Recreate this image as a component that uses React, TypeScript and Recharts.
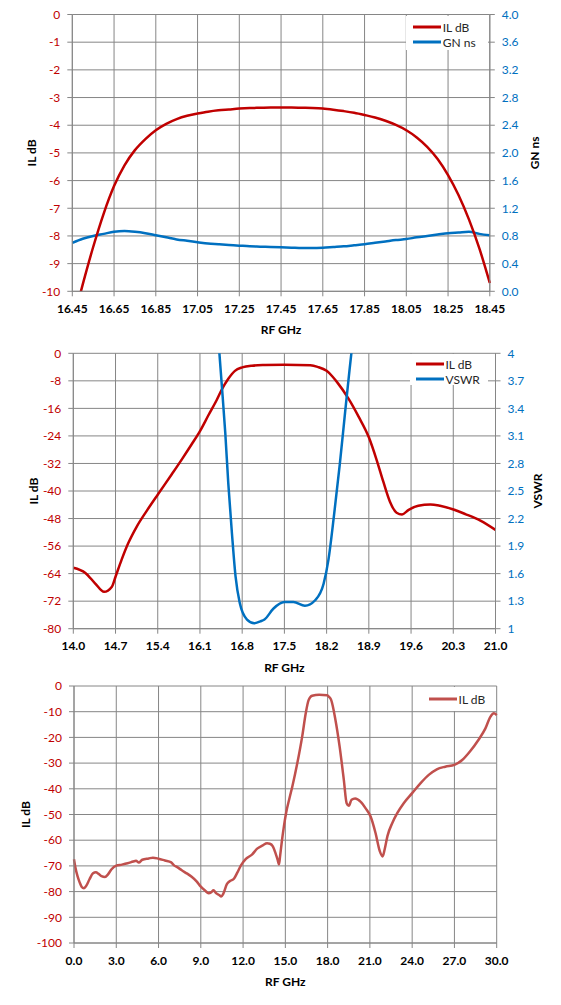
import React from 'react';
import { LineChart, Line, XAxis, YAxis, CartesianGrid, Legend } from 'recharts';

const FONT = 'Lato, "Open Sans", sans-serif';
const GRID = '#868686';
const RED = '#C00000';
const BLUE = '#0070C0';
const RED3 = '#C0504D';

// ---- chart 1: passband IL and group delay ----
const freq1 = [
  16.45, 16.5, 16.55, 16.6, 16.65, 16.7, 16.75, 16.8, 16.85, 16.9, 16.95, 17.0, 17.05, 17.1,
  17.15, 17.2, 17.25, 17.3, 17.35, 17.4, 17.45, 17.5, 17.55, 17.6, 17.65, 17.7, 17.75, 17.8,
  17.85, 17.9, 17.95, 18.0, 18.05, 18.1, 18.15, 18.2, 18.25, 18.3, 18.35, 18.4, 18.45,
];
const il1 = [
  -11.2, -9.75, -8.4, -7.2, -6.2, -5.45, -4.9, -4.5, -4.18, -3.95, -3.78, -3.66, -3.58, -3.51,
  -3.46, -3.43, -3.4, -3.38, -3.37, -3.36, -3.36, -3.36, -3.37, -3.38, -3.4, -3.44, -3.49, -3.55,
  -3.63, -3.72, -3.84, -3.99, -4.18, -4.44, -4.78, -5.22, -5.8, -6.52, -7.4, -8.45, -9.7,
];
const gn1 = [
  0.7, 0.76, 0.8, 0.83, 0.86, 0.87, 0.86, 0.84, 0.81, 0.78, 0.75, 0.73, 0.71, 0.69,
  0.68, 0.67, 0.66, 0.65, 0.645, 0.64, 0.635, 0.63, 0.625, 0.625, 0.63, 0.64, 0.65, 0.665,
  0.68, 0.7, 0.72, 0.74, 0.755, 0.78, 0.8, 0.82, 0.84, 0.85, 0.86, 0.83, 0.81,
];
const xTicks1 = [16.45, 16.65, 16.85, 17.05, 17.25, 17.45, 17.65, 17.85, 18.05, 18.25, 18.45];
const ilTicks1 = [0, -1, -2, -3, -4, -5, -6, -7, -8, -9, -10];
const gnTicks1 = [0, 0.4, 0.8, 1.2, 1.6, 2.0, 2.4, 2.8, 3.2, 3.6, 4.0];

// ---- chart 2: IL and VSWR 14-21 GHz ----
const ilFreq2 = [
  14.0, 14.2, 14.36, 14.51, 14.64, 14.7, 14.8, 14.91, 15.05, 15.22, 15.41, 15.63, 15.8, 15.96,
  16.11, 16.24, 16.38, 16.46, 16.57, 16.68, 16.8, 16.96, 17.18, 17.5, 17.93, 18.05, 18.2, 18.3,
  18.37, 18.56, 18.73, 18.9, 19.03, 19.14, 19.25, 19.36, 19.45, 19.56, 19.72, 19.92, 20.08, 20.29,
  20.5, 20.75, 21.0,
];
const il2 = [
  -62.3, -63.8, -66.8, -69.3, -67.8, -64.9, -60.0, -55.2, -50.4, -45.7, -40.8, -35.2, -30.8, -26.5,
  -22.3, -18.0, -13.5, -10.6, -7.4, -5.1, -4.1, -3.6, -3.4, -3.3, -3.5, -3.95, -5.1, -6.8,
  -8.3, -13.1, -18.4, -24.4, -31.0, -37.3, -43.1, -46.3, -46.8, -45.5, -44.3, -43.9, -44.3, -45.3,
  -46.7, -48.6, -51.3,
];
const vswrFreq2 = [
  16.36, 16.42, 16.46, 16.52, 16.57, 16.63, 16.69, 16.76, 16.88, 17.0, 17.1, 17.17, 17.32, 17.5,
  17.65, 17.84, 18.01, 18.15, 18.23, 18.32, 18.42, 18.51, 18.58, 18.61, 18.66,
];
const vswr2 = [
  4.5, 4.02, 3.67, 3.13, 2.58, 2.04, 1.57, 1.28, 1.1, 1.06, 1.08, 1.1, 1.22, 1.29,
  1.29, 1.25, 1.31, 1.49, 1.75, 2.22, 2.8, 3.38, 3.82, 4.0, 4.35,
];
const xTicks2 = [14.0, 14.7, 15.4, 16.1, 16.8, 17.5, 18.2, 18.9, 19.6, 20.3, 21.0];
const ilTicks2 = [0, -8, -16, -24, -32, -40, -48, -56, -64, -72, -80];
const vswrTicks2 = [1, 1.3, 1.6, 1.9, 2.2, 2.5, 2.8, 3.1, 3.4, 3.7, 4];

// ---- chart 3: wideband IL 0-30 GHz ----
const freq3 = [
  0.0, 0.1, 0.25, 0.4, 0.55, 0.7, 0.85, 1.1, 1.35, 1.55, 1.75, 1.95, 2.2, 2.4, 2.65, 3.0, 3.4,
  3.8, 4.2, 4.4, 4.6, 4.85, 5.3, 5.6, 6.0, 6.45, 6.9, 7.1, 7.3, 7.65, 8.0, 8.35, 8.7, 9.0, 9.3,
  9.55, 9.75, 9.9, 10.1, 10.3, 10.45, 10.6, 10.85, 11.1, 11.35, 11.6, 11.85, 12.2, 12.65, 13.0,
  13.4, 13.7, 13.9, 14.1, 14.3, 14.45, 14.55, 14.62, 14.75, 14.9, 15.05, 15.3, 15.5, 15.85, 16.2,
  16.45, 16.65, 16.9, 17.4, 17.95, 18.1, 18.25, 18.55, 18.85, 19.15, 19.35, 19.5, 19.7, 19.95,
  20.35, 20.7, 21.05, 21.4, 21.7, 21.9, 22.05, 22.25, 22.6, 22.95, 23.4, 24.0, 24.6, 25.2, 25.75,
  26.35, 27.0, 27.55, 28.1, 28.7, 29.2, 29.55, 29.8, 30.0,
];
const il3 = [
  -67.4, -70.6, -74.0, -76.4, -78.2, -78.7, -77.9, -75.2, -72.9, -72.5, -73.1, -74.0, -74.3,
  -73.4, -71.4, -69.9, -69.5, -69.0, -68.3, -68.0, -68.7, -67.6, -67.1, -66.8, -67.2, -67.9,
  -68.6, -69.8, -70.4, -71.7, -72.9, -74.2, -76.0, -78.1, -79.6, -80.6, -80.2, -79.5, -80.7,
  -81.3, -81.9, -80.8, -77.1, -75.8, -75.0, -72.5, -69.8, -67.3, -65.5, -63.3, -62.0, -61.2,
  -61.4, -62.3, -65.0, -67.6, -69.4, -66.5, -60.5, -54.5, -49.5, -43.5, -39.0, -30.0, -19.5,
  -10.5, -5.5, -3.8, -3.4, -3.6, -4.2, -5.4, -13.0, -23.5, -36.5, -45.6, -46.6, -44.3, -43.8,
  -45.1, -47.6, -50.8, -57.2, -64.2, -66.3, -63.5, -58.3, -53.2, -49.4, -45.6, -41.7, -37.8,
  -34.5, -32.4, -31.4, -30.7, -28.8, -25.5, -21.0, -16.5, -12.0, -10.6, -11.3,
];
const xTicks3 = [0, 3, 6, 9, 12, 15, 18, 21, 24, 27, 30];
const ilTicks3 = [0, -10, -20, -30, -40, -50, -60, -70, -80, -90, -100];

const data1 = freq1.map((f, i) => ({ f, il: il1[i], gn: gn1[i] }));
const data2il = ilFreq2.map((f, i) => ({ f, il: il2[i] }));
const data2vswr = vswrFreq2.map((f, i) => ({ f, vswr: vswr2[i] }));
const data3 = freq3.map((f, i) => ({ f, il: il3[i] }));

const xTick = { fill: '#000', fontSize: 12, fontWeight: 700, fontFamily: FONT };
const tickOf = (fill: string) => ({ fill, fontSize: 12, fontFamily: FONT });
const titleStyle = { fontSize: 12, fontWeight: 700, fontFamily: FONT, fill: '#000' };

const vTitle = (text: string, x: number) => (props: any) => {
  const vb = props.viewBox || {};
  const cy = vb.y + vb.height / 2;
  return (
    <text x={x} y={cy} transform={`rotate(-90 ${x} ${cy})`} textAnchor="middle" dominantBaseline="central" style={titleStyle}>
      {text}
    </text>
  );
};

const hTitle = (text: string, dy: number) => (props: any) => {
  const vb = props.viewBox || {};
  return (
    <text x={vb.x + vb.width / 2} y={vb.y + dy} textAnchor="middle" dominantBaseline="central" style={titleStyle}>
      {text}
    </text>
  );
};

const LegendBox = ({ payload, order, padTop, padLeft }: any) => {
  const items = [...(payload || [])].sort(
    (a: any, b: any) => order.indexOf(a.value) - order.indexOf(b.value)
  );
  return (
    <div style={{ background: '#fff', width: '100%', height: '100%', paddingTop: padTop, paddingLeft: padLeft, boxSizing: 'border-box' }}>
      {items.map((it: any) => (
        <div key={it.value} style={{ display: 'flex', alignItems: 'center', height: 15, fontSize: 12, fontFamily: FONT, color: '#262626' }}>
          <svg width={28} height={4} style={{ marginRight: 2 }}>
            <line x1={0} y1={2} x2={28} y2={2} stroke={it.color} strokeWidth={3} />
          </svg>
          <span>{it.value}</span>
        </div>
      ))}
    </div>
  );
};

const axisCommon = {
  tickSize: 5,
  tickMargin: 7,
  interval: 0 as const,
  axisLine: { stroke: GRID },
  tickLine: { stroke: GRID },
};

const GroupDelayChart = () => (
  <LineChart width={561} height={337} data={data1} margin={{ top: 14.5, right: 11.2, bottom: 5.7, left: 12.3 }}>
    <CartesianGrid stroke={GRID} yAxisId="il" />
    <XAxis
      dataKey="f"
      type="number"
      domain={[16.45, 18.45]}
      ticks={xTicks1}
      tickFormatter={(v) => v.toFixed(2)}
      tick={xTick}
      height={40}
      {...axisCommon}
      tickMargin={8}
      label={hTitle('RF GHz', 38)}
    />
    <YAxis
      yAxisId="il"
      domain={[-10, 0]}
      ticks={ilTicks1}
      allowDataOverflow
      width={60}
      tick={tickOf(RED)}
      {...axisCommon}
      label={vTitle('IL dB', 31.4)}
    />
    <YAxis
      yAxisId="gn"
      orientation="right"
      domain={[0, 4]}
      ticks={gnTicks1}
      tickFormatter={(v) => v.toFixed(1)}
      width={60}
      tick={tickOf(BLUE)}
      {...axisCommon}
      label={vTitle('GN ns', 534.8)}
    />
    <Legend
      layout="horizontal"
      verticalAlign="middle"
      align="center"
      width={82.7}
      height={34.5}
      wrapperStyle={{ left: 405.7, top: 15.5, width: 82.7, height: 34.5 }}
      content={(p: any) => <LegendBox {...p} order={['IL dB', 'GN ns']} padTop={4} padLeft={7} />}
    />
    <Line yAxisId="gn" name="GN ns" dataKey="gn" type="monotone" stroke={BLUE} strokeWidth={2.5} dot={false} activeDot={false} isAnimationActive={false} />
    <Line yAxisId="il" name="IL dB" dataKey="il" type="monotone" stroke={RED} strokeWidth={2.5} dot={false} activeDot={false} isAnimationActive={false} />
  </LineChart>
);

const VswrChart = () => (
  <LineChart width={561} height={338} margin={{ top: 18.3, right: 10.5, bottom: 4.3, left: 13.3 }}>
    <CartesianGrid stroke={GRID} yAxisId="il" />
    <XAxis
      dataKey="f"
      type="number"
      domain={[14, 21]}
      ticks={xTicks2}
      tickFormatter={(v) => v.toFixed(1)}
      tick={xTick}
      height={40}
      {...axisCommon}
      tickMargin={8}
      label={hTitle('RF GHz', 38.3)}
    />
    <YAxis
      yAxisId="il"
      domain={[-80, 0]}
      ticks={ilTicks2}
      width={60}
      tick={tickOf(RED)}
      {...axisCommon}
      label={vTitle('IL dB', 33)}
    />
    <YAxis
      yAxisId="vswr"
      orientation="right"
      domain={[1, 4]}
      ticks={vswrTicks2}
      allowDataOverflow
      tickFormatter={(v) => String(v)}
      width={55}
      tick={tickOf(BLUE)}
      {...axisCommon}
      label={vTitle('VSWR', 537)}
    />
    <Legend
      layout="horizontal"
      verticalAlign="middle"
      align="center"
      width={78}
      height={31}
      wrapperStyle={{ left: 410, top: 19, width: 78, height: 31 }}
      content={(p: any) => <LegendBox {...p} order={['IL dB', 'VSWR']} padTop={2.5} padLeft={5.5} />}
    />
    <Line data={data2il} yAxisId="il" name="IL dB" dataKey="il" type="monotone" stroke={RED} strokeWidth={2.5} dot={false} activeDot={false} isAnimationActive={false} />
    <Line data={data2vswr} yAxisId="vswr" name="VSWR" dataKey="vswr" type="monotone" stroke={BLUE} strokeWidth={2.5} dot={false} activeDot={false} isAnimationActive={false} />
  </LineChart>
);

const WidebandChart = () => (
  <LineChart width={561} height={332} data={data3} margin={{ top: 13, right: 64.3, bottom: 12, left: 14 }}>
    <CartesianGrid stroke={GRID} />
    <XAxis
      dataKey="f"
      type="number"
      domain={[0, 30]}
      ticks={xTicks3}
      tickFormatter={(v) => v.toFixed(1)}
      tick={xTick}
      height={50}
      {...axisCommon}
      tickMargin={8}
      label={hTitle('RF GHz', 38)}
    />
    <YAxis
      domain={[-100, 0]}
      ticks={ilTicks3}
      width={60}
      tick={tickOf(RED)}
      {...axisCommon}
      label={vTitle('IL dB', 25.8)}
    />
    <Legend
      layout="horizontal"
      verticalAlign="middle"
      align="center"
      width={72}
      height={24}
      wrapperStyle={{ left: 423.8, top: 13.5, width: 72, height: 24 }}
      content={(p: any) => <LegendBox {...p} order={['IL dB']} padTop={5.3} padLeft={4.8} />}
    />
    <Line name="IL dB" dataKey="il" type="monotone" stroke={RED3} strokeWidth={2.5} dot={false} activeDot={false} isAnimationActive={false} />
  </LineChart>
);

export default function App() {
  return (
    <div style={{ position: 'absolute', left: 0, top: 0, width: 561, height: 1005, background: '#fff', fontFamily: FONT }}>
      <div style={{ position: 'absolute', left: 0, top: 0 }}>
        <GroupDelayChart />
      </div>
      <div style={{ position: 'absolute', left: 0, top: 335 }}>
        <VswrChart />
      </div>
      <div style={{ position: 'absolute', left: 0, top: 673 }}>
        <WidebandChart />
      </div>
    </div>
  );
}
